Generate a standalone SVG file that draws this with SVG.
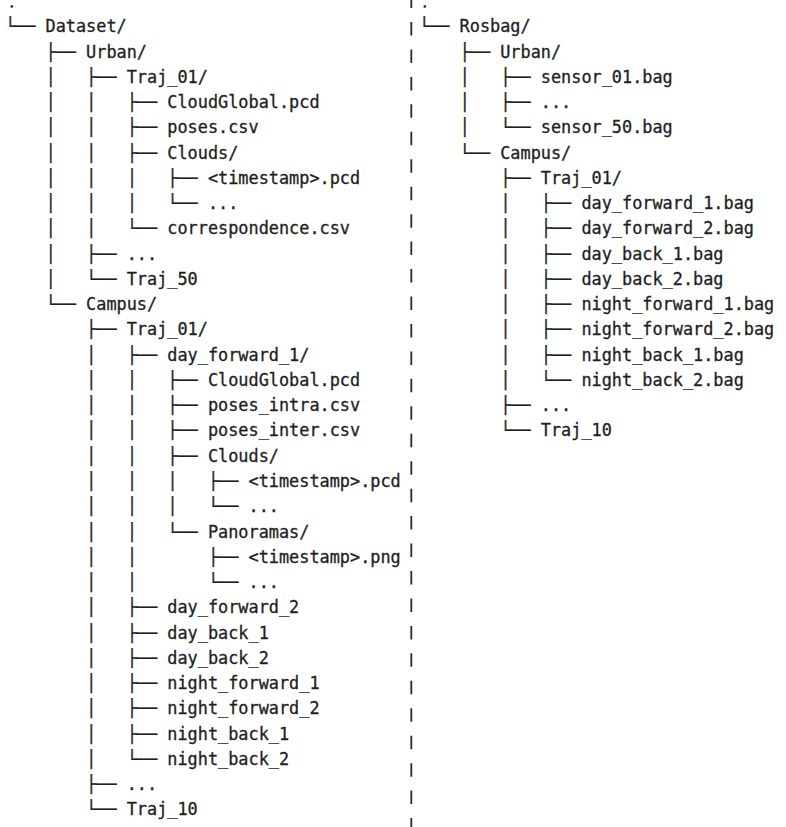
<svg xmlns="http://www.w3.org/2000/svg" width="786" height="827" viewBox="0 0 786 827">
<style>
text { font-family: "DejaVu Sans Mono", "Liberation Mono", monospace; font-size: 16.86px; fill: #1e1e1e; stroke: #1e1e1e; stroke-width: 0.3; white-space: pre; }
text.root { font-size: 7.5px; stroke-width: 1.3; }
.sep { stroke: #2a2a2a; stroke-width: 1.8; stroke-dasharray: 13.5 13.95; stroke-dashoffset: 5.45; fill: none; }
</style>
<rect width="786" height="827" fill="#ffffff"/>
<g id="separator"><line class="sep" x1="411.3" y1="0" x2="411.3" y2="827"/></g>
<g id="connectors" xml:space="preserve">
<text x="4.9" y="32.30">└──</text>
<text x="45.5" y="57.56">├──</text>
<text x="45.5" y="82.82">│   ├──</text>
<text x="45.5" y="108.08">│   │   ├──</text>
<text x="45.5" y="133.34">│   │   ├──</text>
<text x="45.5" y="158.60">│   │   ├──</text>
<text x="45.5" y="183.86">│   │   │   ├──</text>
<text x="45.5" y="209.12">│   │   │   └──</text>
<text x="45.5" y="234.38">│   │   └──</text>
<text x="45.5" y="259.64">│   ├──</text>
<text x="45.5" y="284.90">│   └──</text>
<text x="45.5" y="310.16">└──</text>
<text x="86.1" y="335.42">├──</text>
<text x="86.1" y="360.68">│   ├──</text>
<text x="86.1" y="385.94">│   │   ├──</text>
<text x="86.1" y="411.20">│   │   ├──</text>
<text x="86.1" y="436.46">│   │   ├──</text>
<text x="86.1" y="461.72">│   │   ├──</text>
<text x="86.1" y="486.98">│   │   │   ├──</text>
<text x="86.1" y="512.24">│   │   │   └──</text>
<text x="86.1" y="537.50">│   │   └──</text>
<text x="86.1" y="562.76">│   │       ├──</text>
<text x="86.1" y="588.02">│   │       └──</text>
<text x="86.1" y="613.28">│   ├──</text>
<text x="86.1" y="638.54">│   ├──</text>
<text x="86.1" y="663.80">│   ├──</text>
<text x="86.1" y="689.06">│   ├──</text>
<text x="86.1" y="714.32">│   ├──</text>
<text x="86.1" y="739.58">│   ├──</text>
<text x="86.1" y="764.84">│   └──</text>
<text x="86.1" y="790.10">├──</text>
<text x="86.1" y="815.36">└──</text>
<text x="419" y="32.30">└──</text>
<text x="459.6" y="57.56">├──</text>
<text x="459.6" y="82.82">│   ├──</text>
<text x="459.6" y="108.08">│   ├──</text>
<text x="459.6" y="133.34">│   └──</text>
<text x="459.6" y="158.60">└──</text>
<text x="500.2" y="183.86">├──</text>
<text x="500.2" y="209.12">│   ├──</text>
<text x="500.2" y="234.38">│   ├──</text>
<text x="500.2" y="259.64">│   ├──</text>
<text x="500.2" y="284.90">│   ├──</text>
<text x="500.2" y="310.16">│   ├──</text>
<text x="500.2" y="335.42">│   ├──</text>
<text x="500.2" y="360.68">│   ├──</text>
<text x="500.2" y="385.94">│   └──</text>
<text x="500.2" y="411.20">├──</text>
<text x="500.2" y="436.46">└──</text>
</g>
<g id="node-root-left"><text class="root" x="9.5" y="7.3">.</text></g>
<g id="node-dataset"><text x="45.5" y="32.30">Dataset/</text></g>
<g id="node-d-urban"><text x="86.1" y="57.56">Urban/</text></g>
<g id="node-d-urban-traj01"><text x="126.7" y="82.82">Traj_01/</text></g>
<g id="node-d-urban-cloudglobal"><text x="167.3" y="108.08">CloudGlobal.pcd</text></g>
<g id="node-d-urban-poses"><text x="167.3" y="133.34">poses.csv</text></g>
<g id="node-d-urban-clouds"><text x="167.3" y="158.60">Clouds/</text></g>
<g id="node-d-urban-timestamp"><text x="207.9" y="183.86">&lt;timestamp&gt;.pcd</text></g>
<g id="node-d-urban-clouds-more"><text x="207.9" y="209.12">...</text></g>
<g id="node-d-urban-correspondence"><text x="167.3" y="234.38">correspondence.csv</text></g>
<g id="node-d-urban-more"><text x="126.7" y="259.64">...</text></g>
<g id="node-d-urban-traj50"><text x="126.7" y="284.90">Traj_50</text></g>
<g id="node-d-campus"><text x="86.1" y="310.16">Campus/</text></g>
<g id="node-d-campus-traj01"><text x="126.7" y="335.42">Traj_01/</text></g>
<g id="node-d-day-forward-1"><text x="167.3" y="360.68">day_forward_1/</text></g>
<g id="node-d-cloudglobal"><text x="207.9" y="385.94">CloudGlobal.pcd</text></g>
<g id="node-d-poses-intra"><text x="207.9" y="411.20">poses_intra.csv</text></g>
<g id="node-d-poses-inter"><text x="207.9" y="436.46">poses_inter.csv</text></g>
<g id="node-d-clouds"><text x="207.9" y="461.72">Clouds/</text></g>
<g id="node-d-clouds-timestamp"><text x="248.5" y="486.98">&lt;timestamp&gt;.pcd</text></g>
<g id="node-d-clouds-more"><text x="248.5" y="512.24">...</text></g>
<g id="node-d-panoramas"><text x="207.9" y="537.50">Panoramas/</text></g>
<g id="node-d-panoramas-timestamp"><text x="248.5" y="562.76">&lt;timestamp&gt;.png</text></g>
<g id="node-d-panoramas-more"><text x="248.5" y="588.02">...</text></g>
<g id="node-d-day-forward-2"><text x="167.3" y="613.28">day_forward_2</text></g>
<g id="node-d-day-back-1"><text x="167.3" y="638.54">day_back_1</text></g>
<g id="node-d-day-back-2"><text x="167.3" y="663.80">day_back_2</text></g>
<g id="node-d-night-forward-1"><text x="167.3" y="689.06">night_forward_1</text></g>
<g id="node-d-night-forward-2"><text x="167.3" y="714.32">night_forward_2</text></g>
<g id="node-d-night-back-1"><text x="167.3" y="739.58">night_back_1</text></g>
<g id="node-d-night-back-2"><text x="167.3" y="764.84">night_back_2</text></g>
<g id="node-d-campus-more"><text x="126.7" y="790.10">...</text></g>
<g id="node-d-campus-traj10"><text x="126.7" y="815.36">Traj_10</text></g>
<g id="node-root-right"><text class="root" x="422.5" y="7.3">.</text></g>
<g id="node-rosbag"><text x="459.6" y="32.30">Rosbag/</text></g>
<g id="node-r-urban"><text x="500.2" y="57.56">Urban/</text></g>
<g id="node-r-sensor01"><text x="540.8" y="82.82">sensor_01.bag</text></g>
<g id="node-r-sensor-more"><text x="540.8" y="108.08">...</text></g>
<g id="node-r-sensor50"><text x="540.8" y="133.34">sensor_50.bag</text></g>
<g id="node-r-campus"><text x="500.2" y="158.60">Campus/</text></g>
<g id="node-r-traj01"><text x="540.8" y="183.86">Traj_01/</text></g>
<g id="node-r-day-forward-1"><text x="581.4" y="209.12">day_forward_1.bag</text></g>
<g id="node-r-day-forward-2"><text x="581.4" y="234.38">day_forward_2.bag</text></g>
<g id="node-r-day-back-1"><text x="581.4" y="259.64">day_back_1.bag</text></g>
<g id="node-r-day-back-2"><text x="581.4" y="284.90">day_back_2.bag</text></g>
<g id="node-r-night-forward-1"><text x="581.4" y="310.16">night_forward_1.bag</text></g>
<g id="node-r-night-forward-2"><text x="581.4" y="335.42">night_forward_2.bag</text></g>
<g id="node-r-night-back-1"><text x="581.4" y="360.68">night_back_1.bag</text></g>
<g id="node-r-night-back-2"><text x="581.4" y="385.94">night_back_2.bag</text></g>
<g id="node-r-campus-more"><text x="540.8" y="411.20">...</text></g>
<g id="node-r-traj10"><text x="540.8" y="436.46">Traj_10</text></g>
</svg>
